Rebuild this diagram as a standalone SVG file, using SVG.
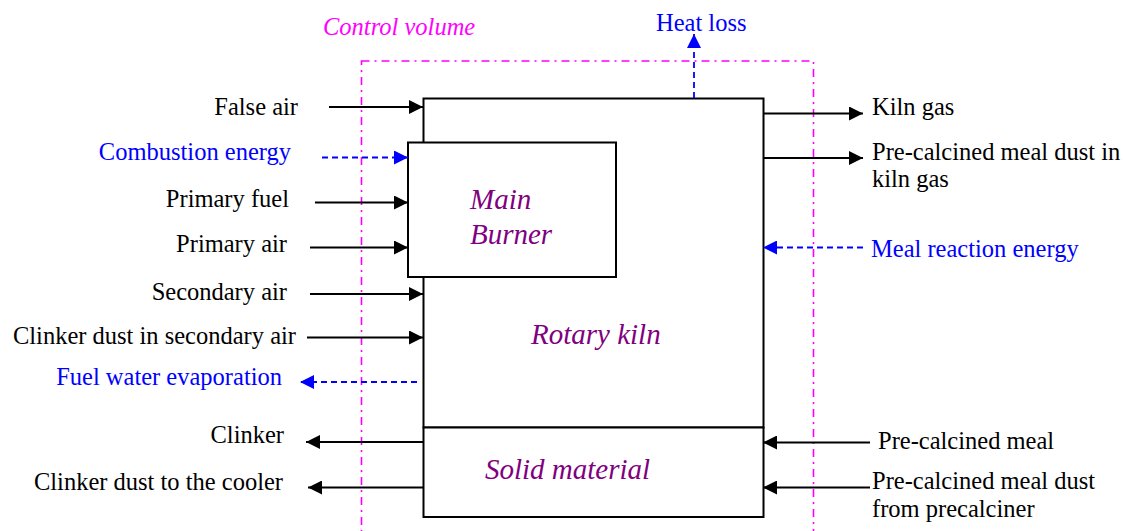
<svg xmlns="http://www.w3.org/2000/svg" width="1123" height="531" viewBox="0 0 1123 531">
<style>
text{font-family:'Liberation Serif','Times New Roman',serif;font-size:24.5px}
.k{fill:#000}
.b{fill:#0000ff}
.m{fill:#ff00ff;font-style:italic}
.p{fill:#800080;font-style:italic;font-size:29px}
.box{fill:#fff;stroke:#000;stroke-width:2}
.cv{fill:none;stroke:#ff00ff;stroke-width:1.6;stroke-dasharray:8 5 2 5}
.s{stroke:#000;stroke-width:1.8;fill:none;marker-end:url(#ak)}
.d{stroke:#0000ff;stroke-width:1.8;fill:none;stroke-dasharray:6 4;marker-end:url(#ab)}
.end{text-anchor:end}
</style>
<defs>
<marker id="ak" markerUnits="userSpaceOnUse" markerWidth="14" markerHeight="14" refX="14" refY="7" orient="auto"><path d="M0,0 L14,7 L0,14 z" fill="#000"/></marker>
<marker id="ab" markerUnits="userSpaceOnUse" markerWidth="14" markerHeight="14" refX="14" refY="7" orient="auto"><path d="M0,0 L14,7 L0,14 z" fill="#0000ff"/></marker>
</defs>
<rect width="1123" height="531" fill="#fff"/>

<g id="control-volume">
<rect class="cv" x="361.5" y="61" width="452" height="480"/>
<text class="m" x="323" y="34.5">Control volume</text>
</g>

<g id="rotary-kiln">
<rect class="box" x="423.5" y="98.5" width="340" height="329"/>
<text class="p" x="531" y="343.5">Rotary kiln</text>
</g>

<g id="solid-material">
<rect class="box" x="423.5" y="427.5" width="340" height="89.5"/>
<text class="p" x="485" y="478.5">Solid material</text>
</g>

<g id="main-burner">
<rect class="box" x="408" y="142.5" width="208" height="134.5"/>
<text class="p" x="470" y="208.5">Main</text>
<text class="p" x="470" y="243.5">Burner</text>
</g>

<g id="connectors">
<path class="d" d="M694,98 V34"/>
<path class="s" d="M329,107 H423"/>
<path class="d" d="M322,157.5 H408"/>
<path class="s" d="M315,202.5 H408"/>
<path class="s" d="M310,247.5 H408"/>
<path class="s" d="M310,294 H423"/>
<path class="s" d="M307,337.5 H423"/>
<path class="d" d="M417,382 H300"/>
<path class="s" d="M423,442 H306"/>
<path class="s" d="M423,487.5 H308"/>
<path class="s" d="M763,113.5 H863"/>
<path class="s" d="M763,158 H863"/>
<path class="d" d="M863,247.5 H763"/>
<path class="s" d="M870,442.5 H763"/>
<path class="s" d="M870,487.5 H763"/>
</g>

<g id="labels">
<text class="b" x="656" y="31">Heat loss</text>
<text class="k end" x="298" y="114.5">False air</text>
<text class="b end" x="291" y="160">Combustion energy</text>
<text class="k end" x="289" y="206.5">Primary fuel</text>
<text class="k end" x="287" y="252">Primary air</text>
<text class="k end" x="287" y="300">Secondary air</text>
<text class="k end" x="296" y="344">Clinker dust in secondary air</text>
<text class="b end" x="282" y="385">Fuel water evaporation</text>
<text class="k end" x="284" y="443">Clinker</text>
<text class="k end" x="283" y="490">Clinker dust to the cooler</text>
<text class="k" x="872" y="115">Kiln gas</text>
<text class="k" x="872" y="160">Pre-calcined meal dust in</text>
<text class="k" x="872" y="187">kiln gas</text>
<text class="b" x="871" y="256.5">Meal reaction energy</text>
<text class="k" x="878" y="449">Pre-calcined meal</text>
<text class="k" x="872" y="489">Pre-calcined meal dust</text>
<text class="k" x="872" y="517">from precalciner</text>
</g>
</svg>
